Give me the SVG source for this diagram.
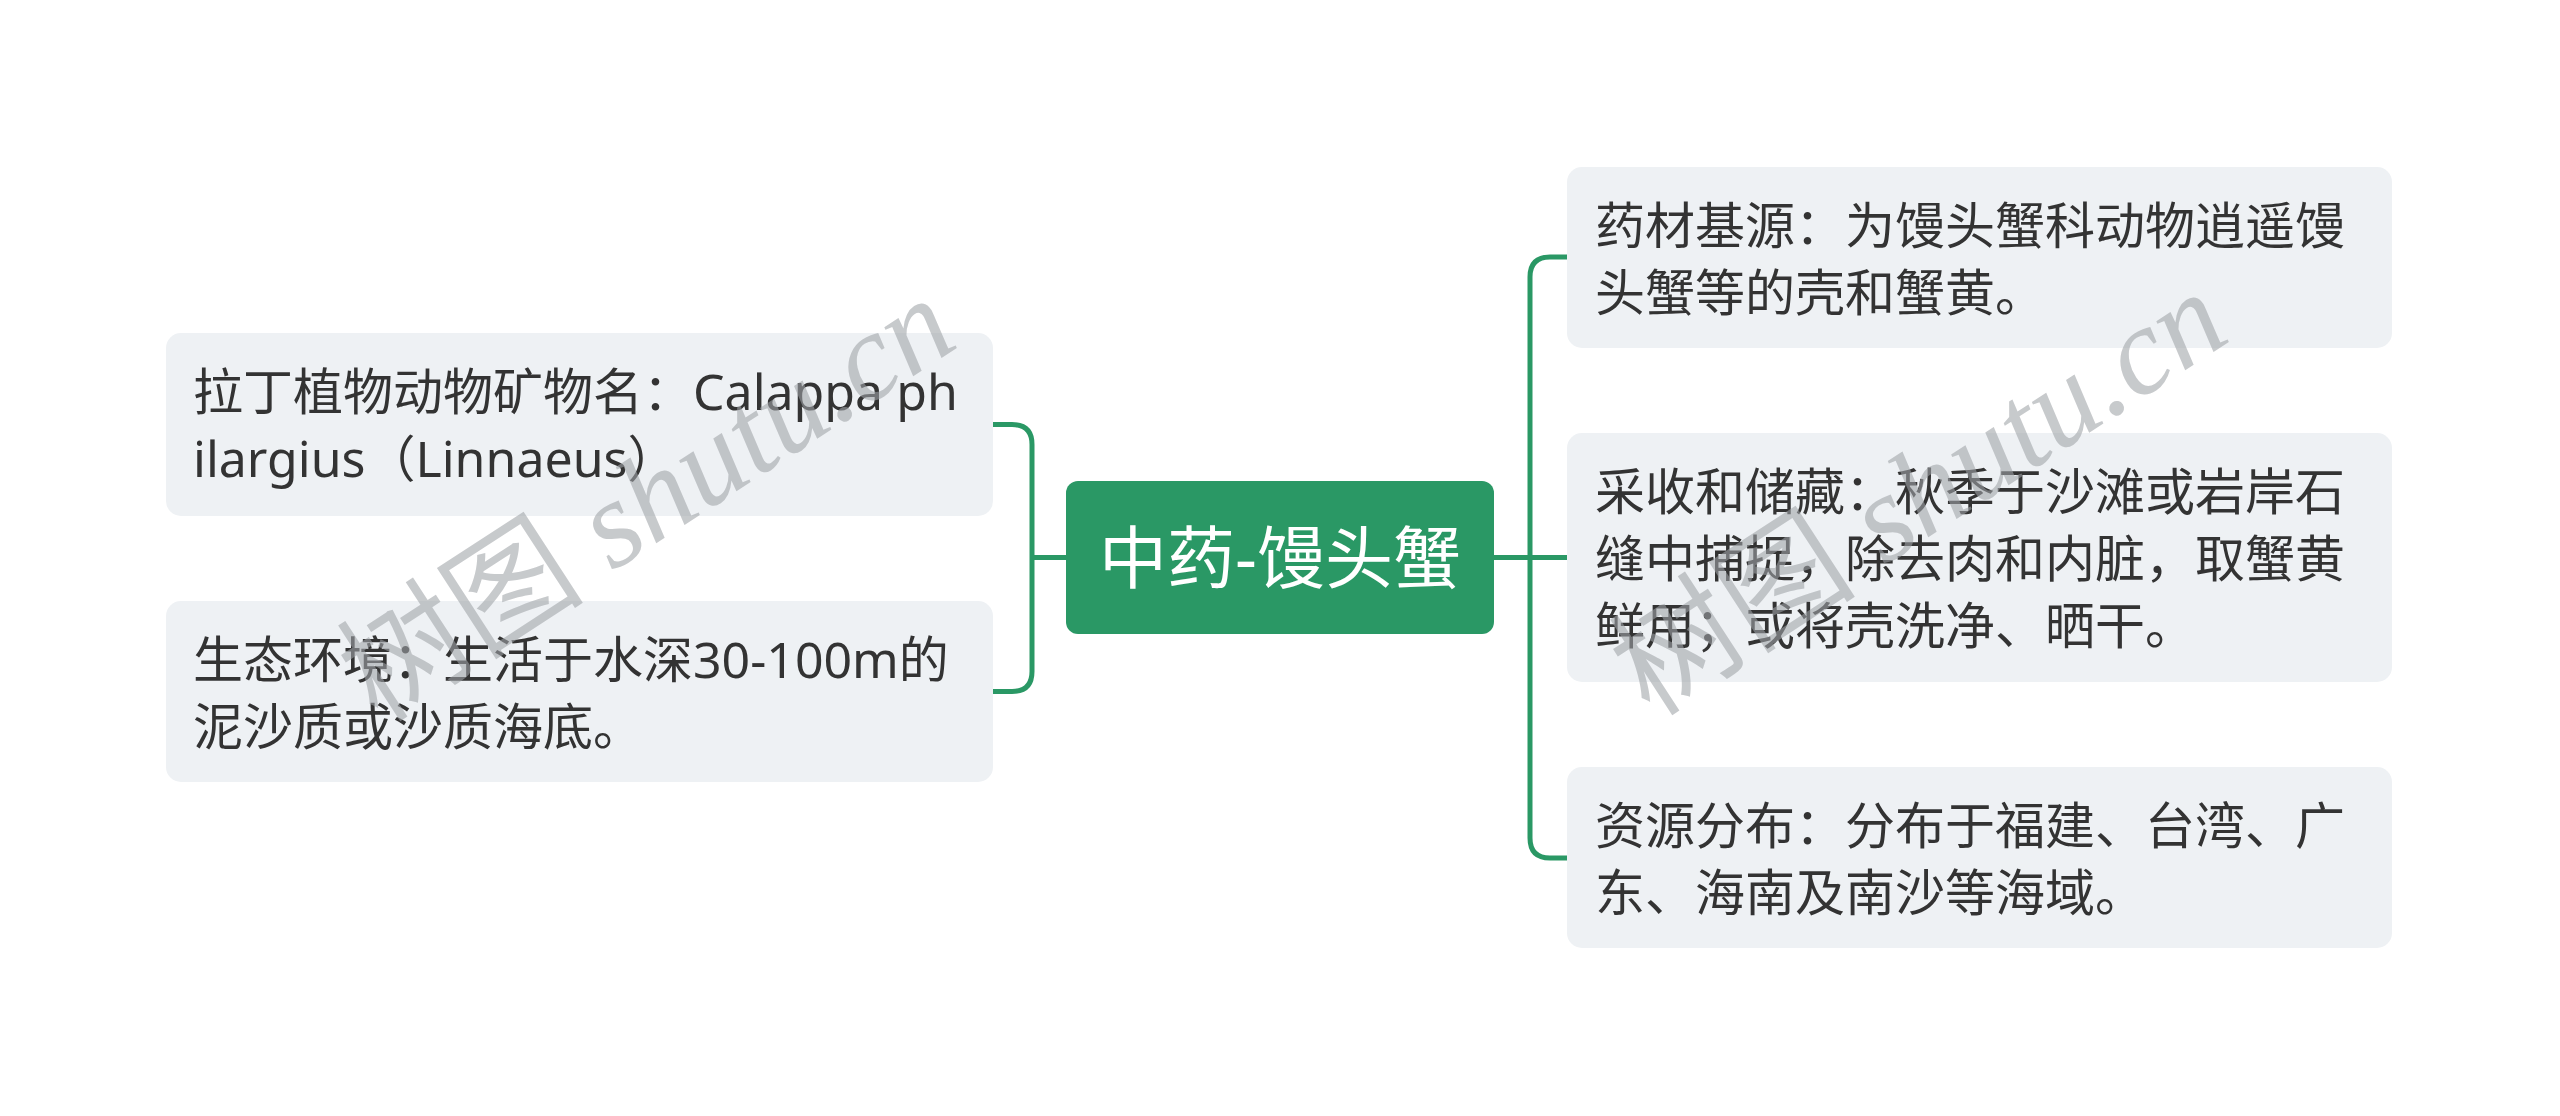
<svg xmlns="http://www.w3.org/2000/svg" width="2560" height="1116" viewBox="0 0 2560 1116">
  <style>
    .box { fill: #eef1f4; }
    .t { font-family: "Noto Sans", "Noto Sans CJK SC", sans-serif; font-size: 50px; fill: #333333; }
    .root { fill: #2a9865; }
    .rt { font-family: "Noto Sans", "Noto Sans CJK SC", sans-serif; font-size: 68px; fill: #ffffff; }
    .conn { fill: none; stroke: #2a9865; stroke-width: 5; }
    .wm { font-family: "Liberation Serif", "Noto Sans CJK SC", serif; font-size: 124px; fill: #a0a4a8; opacity: 0.58; }
  </style>
  <rect width="2560" height="1116" fill="#ffffff"/>
  <g id="connectors">
    <path class="conn" d="M993,424.5 H1012 Q1032,424.5 1032,444.5 V671.5 Q1032,691.5 1012,691.5 H993"/>
    <path class="conn" d="M1032,557.5 H1066"/>
    <path class="conn" d="M1494,557.5 H1530"/>
    <path class="conn" d="M1567,257 H1550 Q1530,257 1530,277 V838 Q1530,858 1550,858 H1567"/>
    <path class="conn" d="M1530,557.5 H1567"/>
  </g>
  <g id="root">
    <rect class="root" x="1066" y="481" width="428" height="153" rx="12"/>
    <text class="rt" x="1280" y="583" text-anchor="middle">中药-馒头蟹</text>
  </g>
  <g id="left1">
    <rect class="box" x="166" y="333" width="827" height="183" rx="15"/>
    <text class="t" x="193" y="410">拉丁植物动物矿物名：Calappa ph</text>
    <text class="t" x="193" y="477">ilargius（Linnaeus）</text>
  </g>
  <g id="left2">
    <rect class="box" x="166" y="601" width="827" height="181" rx="15"/>
    <text class="t" x="193" y="678">生态环境：生活于水深30-100m的</text>
    <text class="t" x="193" y="745">泥沙质或沙质海底。</text>
  </g>
  <g id="right1">
    <rect class="box" x="1567" y="167" width="825" height="181" rx="15"/>
    <text class="t" x="1595" y="244">药材基源：为馒头蟹科动物逍遥馒</text>
    <text class="t" x="1595" y="311">头蟹等的壳和蟹黄。</text>
  </g>
  <g id="right2">
    <rect class="box" x="1567" y="433" width="825" height="249" rx="15"/>
    <text class="t" x="1595" y="510">采收和储藏：秋季于沙滩或岩岸石</text>
    <text class="t" x="1595" y="577">缝中捕捉，除去肉和内脏，取蟹黄</text>
    <text class="t" x="1595" y="644">鲜用；或将壳洗净、晒干。</text>
  </g>
  <g id="right3">
    <rect class="box" x="1567" y="767" width="825" height="181" rx="15"/>
    <text class="t" x="1595" y="844">资源分布：分布于福建、台湾、广</text>
    <text class="t" x="1595" y="911">东、海南及南沙等海域。</text>
  </g>
  <g id="watermarks">
    <text class="wm" transform="translate(378,724) rotate(-33)">树图 <tspan font-style="italic">shutu.cn</tspan></text>
    <text class="wm" transform="translate(1650,718) rotate(-33)">树图 <tspan font-style="italic">shutu.cn</tspan></text>
  </g>
</svg>
